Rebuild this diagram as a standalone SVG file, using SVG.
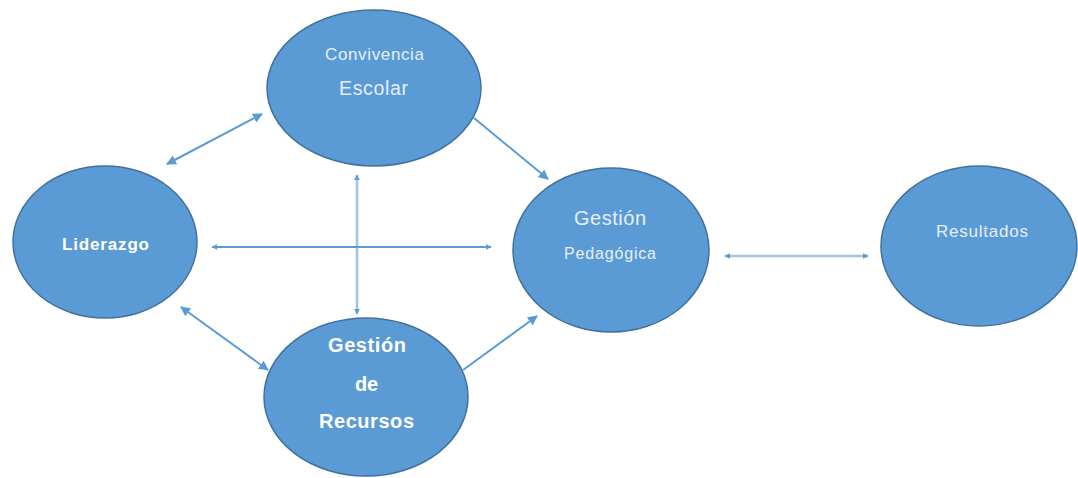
<svg xmlns="http://www.w3.org/2000/svg" width="1078" height="478" viewBox="0 0 1078 478">
<style>
.node{fill:#5B9BD5;stroke:#41719C;stroke-width:1.5}
.t{font-family:"Liberation Sans",Arial,sans-serif;fill:#E6EFF9;text-anchor:middle}
.b{font-weight:bold;fill:#FFFFFF}
.c{stroke:#5B9BD5;stroke-width:2;fill:none}
.cl{stroke:#9DC3E6;stroke-width:2.5;fill:none}
</style>
<defs>
<marker id="ah" viewBox="0 0 10 10" refX="9" refY="5" markerWidth="6" markerHeight="6" orient="auto-start-reverse" markerUnits="userSpaceOnUse">
<path d="M0,0 L10,5 L0,10 z" fill="#5B9BD5"/>
</marker>
<marker id="ahs" viewBox="0 0 10 10" refX="9" refY="5" markerWidth="10" markerHeight="10" orient="auto-start-reverse" markerUnits="userSpaceOnUse">
<path d="M0,0 L10,5 L0,10 z" fill="#5B9BD5"/>
</marker>
</defs>
<rect width="1078" height="478" fill="#FFFFFF"/>
<g id="connectors">
<line class="c" x1="167" y1="164" x2="262" y2="114" marker-start="url(#ahs)" marker-end="url(#ahs)"/>
<line class="c" x1="474" y1="118" x2="548" y2="179" marker-end="url(#ahs)"/>
<line class="cl" x1="357" y1="175" x2="357" y2="314" marker-start="url(#ah)" marker-end="url(#ah)"/>
<line class="c" x1="212" y1="247" x2="491" y2="247" marker-start="url(#ah)" marker-end="url(#ah)"/>
<line class="c" x1="181" y1="307" x2="268" y2="370" marker-start="url(#ahs)" marker-end="url(#ahs)"/>
<line class="c" x1="463" y1="370" x2="537" y2="316" marker-end="url(#ahs)"/>
<line class="cl" x1="725" y1="256" x2="868" y2="256" marker-start="url(#ah)" marker-end="url(#ah)"/>
</g>
<g id="convivencia">
<ellipse class="node" cx="374" cy="88" rx="107" ry="78"/>
<text class="t" x="374.5" y="60" font-size="17" textLength="99" lengthAdjust="spacing">Convivencia</text>
<text class="t" x="373.5" y="95" font-size="19.5" textLength="69" lengthAdjust="spacing">Escolar</text>
</g>
<g id="liderazgo">
<ellipse class="node" cx="105" cy="242" rx="92" ry="76"/>
<text class="t b" x="105.5" y="250" font-size="17" textLength="87" lengthAdjust="spacing">Liderazgo</text>
</g>
<g id="pedagogica">
<ellipse class="node" cx="611" cy="250" rx="98" ry="82"/>
<text class="t" x="610" y="225" font-size="20" textLength="72" lengthAdjust="spacing">Gestión</text>
<text class="t" x="610" y="259" font-size="16" textLength="92" lengthAdjust="spacing">Pedagógica</text>
</g>
<g id="recursos">
<ellipse class="node" cx="366" cy="397" rx="102" ry="79"/>
<text class="t b" x="367" y="352" font-size="20" textLength="78" lengthAdjust="spacing">Gestión</text>
<text class="t b" x="366.5" y="391" font-size="20" textLength="23" lengthAdjust="spacing">de</text>
<text class="t b" x="366.5" y="428" font-size="20" textLength="95" lengthAdjust="spacing">Recursos</text>
</g>
<g id="resultados">
<ellipse class="node" cx="979" cy="246" rx="98" ry="80"/>
<text class="t" x="982" y="237" font-size="17" textLength="92" lengthAdjust="spacing">Resultados</text>
</g>
</svg>
